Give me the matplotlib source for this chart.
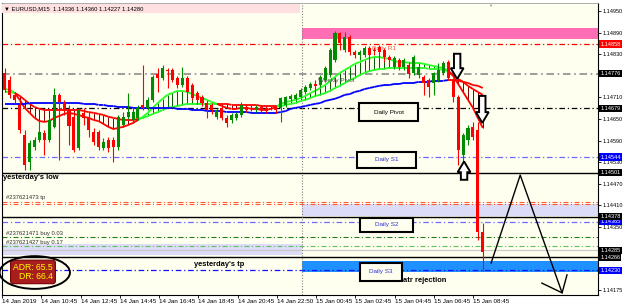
import numpy as np
import matplotlib.pyplot as plt
import matplotlib.transforms as mtransforms
from matplotlib.collections import LineCollection
from matplotlib.patches import Rectangle, Ellipse, FancyArrow

plt.rcParams['font.family'] = ['Liberation Sans', 'DejaVu Sans']

# EURUSD M15 bars (14 Jan 2019 09:00 .. 15 Jan 2019 09:15)
opens = [
    1.14778, 1.14758, 1.14717, 1.14689, 1.14606, 1.14531, 1.14572, 1.14592, 1.14611, 1.14592,
    1.14628, 1.14717, 1.14694, 1.14675, 1.14656, 1.14569, 1.14667, 1.14656, 1.14614, 1.14614,
    1.14569, 1.14592, 1.14592, 1.14572, 1.14633, 1.14656, 1.14647, 1.14653, 1.14689, 1.14681,
    1.14703, 1.14775, 1.14764, 1.14786, 1.14786, 1.14764, 1.14744, 1.14764, 1.14744, 1.14722,
    1.14711, 1.14694, 1.14689, 1.14656, 1.14681, 1.14653, 1.14647, 1.14653, 1.14661, 1.14683,
    1.14681, 1.14675, 1.14683, 1.14681, 1.14678, 1.14683, 1.14681, 1.14689, 1.14706, 1.14706,
    1.14711, 1.14725, 1.14736, 1.14747, 1.14744, 1.14758, 1.14772, 1.14814, 1.14889, 1.14842,
    1.14878, 1.14836, 1.14828, 1.14828, 1.14847, 1.14842, 1.14850, 1.14842, 1.14822, 1.14794,
    1.14814, 1.14794, 1.14800, 1.14778, 1.14772, 1.14767, 1.14758, 1.14750, 1.14758, 1.14778,
    1.14808, 1.14758, 1.14711, 1.14550, 1.14592, 1.14628, 1.14620, 1.14336]
highs = [
    1.14792, 1.14769, 1.14725, 1.14703, 1.14619, 1.14592, 1.14600, 1.14647, 1.14619, 1.14653,
    1.14736, 1.14722, 1.14703, 1.14689, 1.14669, 1.14681, 1.14681, 1.14669, 1.14625, 1.14619,
    1.14597, 1.14600, 1.14600, 1.14661, 1.14669, 1.14722, 1.14681, 1.14689, 1.14800, 1.14711,
    1.14772, 1.14792, 1.14800, 1.14792, 1.14792, 1.14769, 1.14794, 1.14769, 1.14750, 1.14728,
    1.14717, 1.14700, 1.14694, 1.14681, 1.14686, 1.14661, 1.14667, 1.14669, 1.14697, 1.14689,
    1.14686, 1.14689, 1.14689, 1.14686, 1.14683, 1.14689, 1.14711, 1.14714, 1.14719, 1.14722,
    1.14736, 1.14744, 1.14753, 1.14758, 1.14772, 1.14797, 1.14847, 1.14894, 1.14892, 1.14892,
    1.14883, 1.14842, 1.14842, 1.14853, 1.14853, 1.14850, 1.14856, 1.14847, 1.14828, 1.14825,
    1.14819, 1.14819, 1.14808, 1.14828, 1.14800, 1.14772, 1.14764, 1.14781, 1.14806, 1.14811,
    1.14814, 1.14764, 1.14717, 1.14611, 1.14633, 1.14642, 1.14642, 1.14360]
lows = [
    1.14725, 1.14708, 1.14694, 1.14611, 1.14508, 1.14508, 1.14564, 1.14586, 1.14550, 1.14586,
    1.14625, 1.14536, 1.14661, 1.14578, 1.14558, 1.14564, 1.14633, 1.14600, 1.14578, 1.14564,
    1.14564, 1.14558, 1.14531, 1.14564, 1.14628, 1.14650, 1.14642, 1.14647, 1.14675, 1.14675,
    1.14697, 1.14725, 1.14758, 1.14736, 1.14753, 1.14736, 1.14739, 1.14719, 1.14703, 1.14692,
    1.14686, 1.14653, 1.14664, 1.14650, 1.14647, 1.14628, 1.14639, 1.14647, 1.14656, 1.14669,
    1.14672, 1.14669, 1.14669, 1.14667, 1.14675, 1.14667, 1.14642, 1.14683, 1.14700, 1.14703,
    1.14708, 1.14719, 1.14731, 1.14725, 1.14739, 1.14753, 1.14767, 1.14808, 1.14842, 1.14836,
    1.14828, 1.14819, 1.14814, 1.14822, 1.14814, 1.14828, 1.14819, 1.14808, 1.14800, 1.14789,
    1.14786, 1.14786, 1.14764, 1.14772, 1.14764, 1.14717, 1.14711, 1.14717, 1.14753, 1.14772,
    1.14758, 1.14697, 1.14522, 1.14531, 1.14578, 1.14592, 1.14314, 1.14227]
closes = [
    1.14731, 1.14717, 1.14703, 1.14619, 1.14522, 1.14583, 1.14592, 1.14614, 1.14592, 1.14647,
    1.14717, 1.14697, 1.14675, 1.14631, 1.14564, 1.14675, 1.14653, 1.14619, 1.14586, 1.14572,
    1.14586, 1.14569, 1.14572, 1.14656, 1.14656, 1.14669, 1.14669, 1.14681, 1.14681, 1.14703,
    1.14767, 1.14764, 1.14792, 1.14783, 1.14758, 1.14744, 1.14764, 1.14725, 1.14708, 1.14703,
    1.14694, 1.14675, 1.14675, 1.14675, 1.14653, 1.14639, 1.14661, 1.14664, 1.14689, 1.14675,
    1.14678, 1.14683, 1.14675, 1.14672, 1.14677, 1.14675, 1.14708, 1.14711, 1.14714, 1.14717,
    1.14731, 1.14739, 1.14747, 1.14742, 1.14767, 1.14792, 1.14842, 1.14889, 1.14861, 1.14878,
    1.14836, 1.14828, 1.14836, 1.14847, 1.14828, 1.14839, 1.14836, 1.14822, 1.14814, 1.14819,
    1.14794, 1.14814, 1.14775, 1.14822, 1.14794, 1.14750, 1.14739, 1.14778, 1.14786, 1.14806,
    1.14764, 1.14711, 1.14564, 1.14606, 1.14625, 1.14600, 1.14336, 1.14280]

# smoothed band (two lines) and the slow moving average
fast_line = [
    1.14733, 1.14731, 1.14722, 1.14703, 1.14681, 1.14667, 1.14653, 1.14644, 1.14642, 1.14644,
    1.14653, 1.14658, 1.14664, 1.14667, 1.14664, 1.14661, 1.14656, 1.14653, 1.14647, 1.14644,
    1.14636, 1.14628, 1.14622, 1.14625, 1.14628, 1.14633, 1.14639, 1.14647, 1.14656, 1.14667,
    1.14681, 1.14694, 1.14706, 1.14717, 1.14722, 1.14728, 1.14728, 1.14725, 1.14719, 1.14714,
    1.14708, 1.14703, 1.14697, 1.14692, 1.14686, 1.14681, 1.14678, 1.14678, 1.14681, 1.14681,
    1.14678, 1.14678, 1.14675, 1.14675, 1.14678, 1.14683, 1.14692, 1.14697, 1.14700, 1.14703,
    1.14708, 1.14714, 1.14722, 1.14728, 1.14736, 1.14744, 1.14756, 1.14767, 1.14778, 1.14786,
    1.14794, 1.14803, 1.14808, 1.14814, 1.14819, 1.14822, 1.14822, 1.14819, 1.14817, 1.14811,
    1.14808, 1.14808, 1.14806, 1.14806, 1.14806, 1.14803, 1.14800, 1.14797, 1.14794, 1.14792,
    1.14783, 1.14769, 1.14747, 1.14725, 1.14703, 1.14681, 1.14653, 1.14625]
slow_line = [
    1.14725, 1.14725, 1.14722, 1.14714, 1.14703, 1.14692, 1.14683, 1.14678, 1.14675, 1.14675,
    1.14675, 1.14675, 1.14675, 1.14675, 1.14675, 1.14675, 1.14672, 1.14669, 1.14667, 1.14664,
    1.14661, 1.14656, 1.14653, 1.14650, 1.14647, 1.14647, 1.14647, 1.14650, 1.14653, 1.14658,
    1.14664, 1.14669, 1.14675, 1.14681, 1.14683, 1.14686, 1.14689, 1.14692, 1.14692, 1.14692,
    1.14692, 1.14692, 1.14692, 1.14692, 1.14692, 1.14692, 1.14689, 1.14689, 1.14689, 1.14689,
    1.14689, 1.14689, 1.14686, 1.14686, 1.14686, 1.14686, 1.14686, 1.14689, 1.14692, 1.14694,
    1.14700, 1.14703, 1.14708, 1.14714, 1.14717, 1.14722, 1.14728, 1.14736, 1.14742, 1.14750,
    1.14758, 1.14764, 1.14772, 1.14778, 1.14783, 1.14786, 1.14789, 1.14789, 1.14792, 1.14792,
    1.14792, 1.14792, 1.14792, 1.14792, 1.14792, 1.14792, 1.14789, 1.14789, 1.14789, 1.14786,
    1.14783, 1.14772, 1.14761, 1.14753, 1.14742, 1.14733, 1.14725, 1.14717]
ma_line = [
    1.14692, 1.14692, 1.14692, 1.14692, 1.14692, 1.14694, 1.14694, 1.14694, 1.14694, 1.14694,
    1.14694, 1.14694, 1.14694, 1.14694, 1.14694, 1.14694, 1.14692, 1.14692, 1.14692, 1.14689,
    1.14689, 1.14686, 1.14686, 1.14683, 1.14683, 1.14683, 1.14681, 1.14681, 1.14681, 1.14681,
    1.14681, 1.14681, 1.14681, 1.14681, 1.14681, 1.14678, 1.14678, 1.14678, 1.14675, 1.14675,
    1.14675, 1.14672, 1.14672, 1.14672, 1.14672, 1.14669, 1.14669, 1.14669, 1.14669, 1.14669,
    1.14667, 1.14667, 1.14667, 1.14667, 1.14667, 1.14667, 1.14669, 1.14672, 1.14678, 1.14681,
    1.14683, 1.14686, 1.14689, 1.14692, 1.14694, 1.14700, 1.14703, 1.14706, 1.14711, 1.14717,
    1.14719, 1.14725, 1.14728, 1.14733, 1.14736, 1.14739, 1.14742, 1.14744, 1.14744, 1.14747,
    1.14747, 1.14750, 1.14750, 1.14750, 1.14753, 1.14753, 1.14753, 1.14756, 1.14756, 1.14756,
    1.14758, 1.14758, 1.14756, 1.14753, 1.14750, 1.14744, 1.14742, 1.14736]

time_labels = ['14 Jan 2019', '14 Jan 10:45', '14 Jan 12:45', '14 Jan 14:45', '14 Jan 16:45',
               '14 Jan 18:45', '14 Jan 20:45', '14 Jan 22:50', '15 Jan 00:45', '15 Jan 02:45',
               '15 Jan 04:45', '15 Jan 06:45', '15 Jan 08:45']

price_ticks = [1.14950, 1.14890, 1.14830, 1.14710, 1.14650, 1.14590, 1.14530,
               1.14470, 1.14410, 1.14350, 1.14290, 1.14175]

# horizontal levels drawn across the chart
level_prices = [1.14858, 1.14776, 1.14679, 1.14544, 1.14501, 1.14419, 1.14414,
                1.14378, 1.14365, 1.14322, 1.14297, 1.14285, 1.14266, 1.14230]
tag_prices = [1.14858, 1.14776, 1.14679, 1.14365, 1.14544, 1.14501, 1.14378,
              1.14285, 1.14266, 1.14230]

# zones (low, high): today's ones start at the day separator
pink_zone = (1.14872, 1.14903)
lavender_zone = (1.14381, 1.14414)
blue_zone = (1.14225, 1.14256)
old_zone = (1.14272, 1.14303)

# hand drawn projection
zig_x = [98.7, 104.6, 113.1, 114.1]
zig_y = [1.14250, 1.14494, 1.14167, 1.14217]
zig_tail_x = [109.0, 113.1]
zig_tail_y = [1.14194, 1.14167]

BG = '#FFFFF0'
DAY_START = 60.4
DASHDOT = (0, (4.5, 2.2, 1, 2.2))

W, H = 625, 305
fig = plt.figure(figsize=(W / 100, H / 100), dpi=100)
fig.patch.set_facecolor('white')
ax = fig.add_axes([2 / W, 10 / H, 596 / W, 292 / H])
ax.set_facecolor(BG)
xmin, xmax = -0.507, 120.39
ax.set_xlim(xmin, xmax)
ax.set_ylim(1.14161, 1.14972)

# zones
ax.fill_between([DAY_START, xmax], *pink_zone, color='#FF6EB4', lw=0, zorder=1)
ax.fill_between([DAY_START, xmax], *lavender_zone, color='#DCDCF6', lw=0, zorder=1)
ax.fill_between([DAY_START, xmax], *blue_zone, color='#1E90FF', lw=0, zorder=1)
ax.fill_between([xmin, DAY_START], *old_zone, color='#DCDCF6', lw=0, zorder=1)

level_styles = [('#FF0000', DASHDOT, 0.9), ('#8C8C8C', DASHDOT, 1.2), ('#000000', DASHDOT, 0.9),
                ('#6A6AFF', DASHDOT, 0.9), ('#000000', '-', 1.0), ('#FF5A36', DASHDOT, 0.8),
                ('#FF5A36', DASHDOT, 0.8), ('#000000', '-', 1.0), ('#6A6AFF', DASHDOT, 0.9),
                ('#208020', DASHDOT, 0.8), ('#60C060', DASHDOT, 0.8), ('#C8C8C8', '-', 0.8),
                ('#000000', '-', 1.0), ('#1010FF', DASHDOT, 0.9)]
for p, (c, ls, lw) in zip(level_prices, level_styles):
    ax.axhline(p, color=c, ls=ls, lw=lw, zorder=1.5)

ax.axvline(DAY_START, color='#808080', ls=(0, (1, 1.5)), lw=0.8, zorder=1.6)

# level captions, drawn over the band but under the candles
ax.text(74.5, 1.14847, 'Daily R1', color='#F05050', fontsize=4.6, va='center', zorder=4)
ax.text(63.6, 1.14758, 'Weekly Pivot', color='#505050', fontsize=4.6, va='center', zorder=4)

idx = np.arange(len(opens))


def colored_line(xs, ys, colors, lw, z):
    pts = np.column_stack([xs, ys])
    segs = np.stack([pts[:-1], pts[1:]], axis=1)
    ax.add_collection(LineCollection(segs, colors=colors, linewidths=lw, zorder=z))


# band with hatching
f = np.array(fast_line)
s = np.array(slow_line)
bull = f >= s
ax.vlines(idx, np.minimum(f, s), np.maximum(f, s),
          colors=np.where(bull, '#005A00', '#7A0000'), lw=0.7, zorder=3)
seg_col = ['#22FF22' if b else '#FF0000' for b in bull[1:]]
colored_line(idx, f, seg_col, 1.3, 3.2)
colored_line(idx, s, seg_col, 1.3, 3.2)

# moving average: blue, red once it turns down at the end
ma = np.array(ma_line)
ma_col = ['#0000FF' if i < 91 else '#FF0000' for i in idx[1:]]
colored_line(idx, ma, ma_col, 1.3, 3.4)

# candles
o, hi, lo, c = map(np.array, (opens, highs, lows, closes))
up = c >= o
col = np.where(up, '#008C00', '#FF0000')
ax.vlines(idx, lo, hi, colors=col, lw=0.8, zorder=5)
ax.bar(idx, np.maximum(np.abs(c - o), 0.00003), bottom=np.minimum(o, c),
       width=0.62, color=col, lw=0, zorder=5.5)

# boxed pivot captions
boxes = [('Daily Pivot', 71.9, 83.9, 1.14644, 1.14694, '#000000'),
         ('Daily S1', 71.5, 83.5, 1.14514, 1.14558, '#3030D0'),
         ('Daily S2', 72.1, 82.9, 1.14336, 1.14375, '#3030D0'),
         ('Daily S3', 72.1, 80.6, 1.14200, 1.14250, '#3030D0')]
for label, x0, x1, y0, y1, tc in boxes:
    ax.add_patch(Rectangle((x0, y0), x1 - x0, y1 - y0, fc=BG, ec='black', lw=1.5, zorder=6))
    ax.text((x0 + x1) / 2, (y0 + y1) / 2, label, color=tc, fontsize=4.6,
            ha='center', va='center', zorder=7)

# hollow arrows
for x, y0, dy in [(91.8, 1.14831, -0.00070), (96.9, 1.14714, -0.00075), (93.2, 1.14481, 0.00051)]:
    ax.add_patch(FancyArrow(x, y0, 0, dy, width=1.3, head_width=2.6, head_length=0.0003,
                            length_includes_head=True, fc='white', ec='black', lw=1.4, zorder=8))

# hand drawn path
ax.plot(zig_x, zig_y, color='black', lw=1.0, zorder=8, clip_on=False)
ax.plot(zig_tail_x, zig_tail_y, color='black', lw=1.0, zorder=8)

# chart notes
bold = dict(fontsize=5.4, fontweight='bold', color='black', va='center', zorder=8)
ax.text(-0.3, 1.14486, "yesterday's low", **bold)
ax.text(38.4, 1.14245, "yesterday's tp", **bold)
ax.text(80.8, 1.14200, 'atr rejection', **bold)
small = dict(fontsize=4.2, color='#303030', va='center', zorder=8)
ax.text(0.3, 1.14431, '#237621473 tp', **small)
ax.text(0.3, 1.14331, '#237621471 buy 0.03', **small)
ax.text(0.3, 1.14306, '#237621427 buy 0.17', **small)

ax.text(0.052, 0.079, 'ADR: 65.5\nDR: 66.4', transform=ax.transAxes, color='#FFFF00',
        fontsize=6.2, ha='center', va='center', multialignment='right', linespacing=1.05,
        zorder=9, bbox=dict(boxstyle='round,pad=0.3', fc='#A81E1E', ec='#7A0000', lw=0.8))
ax.add_patch(Ellipse((0.055, 0.077), 0.118, 0.112, transform=ax.transAxes,
                     fill=False, ec='black', lw=1.4, zorder=9, clip_on=False))

# title strip
ax.add_patch(Rectangle((0, 0.966), 0.5, 0.031, transform=ax.transAxes,
                       fc='#FFE0E0', ec='none', zorder=9))
ax.text(0.004, 0.981, '\u25bc EURUSD,M15  1.14336 1.14360 1.14227 1.14280',
        transform=ax.transAxes, fontsize=4.2, va='center', color='black', zorder=10)
ax.text(98.5, 0.99, '\u25bc', transform=mtransforms.blended_transform_factory(ax.transData, ax.transAxes),
        fontsize=3, color='#909090', ha='center', va='center')

# axes
for side in ['left', 'right', 'bottom']:
    ax.spines[side].set_color('black')
    ax.spines[side].set_linewidth(0.8)
ax.spines['top'].set_color('#A0A0A0')
ax.spines['top'].set_linewidth(0.6)

ax.yaxis.tick_right()
ax.set_yticks(price_ticks)
ax.set_yticklabels(['%.5f' % p for p in price_ticks])
ax.tick_params(axis='y', labelsize=4, length=2, width=0.6, pad=1.5, colors='black')

xticks = [-0.6 + 7.97 * k for k in range(len(time_labels))]
ax.set_xticks(xticks)
ax.set_xticklabels(time_labels, ha='left')
ax.tick_params(axis='x', labelsize=4.5, length=2, width=0.6, pad=1)

trans = mtransforms.blended_transform_factory(ax.transAxes, ax.transData)
tag_colors = ['#FF0000', '#000000', '#000000', '#0000FF', '#0000FF', '#000000', '#000000',
              '#000000', '#000000', '#0000FF']
for p, bg in zip(tag_prices, tag_colors):
    ax.text(1.004, p, '%.5f' % p, transform=trans, fontsize=4, color='white', ha='left',
            va='center', zorder=10, clip_on=False,
            bbox=dict(boxstyle='square,pad=0.2', fc=bg, ec='none'))

fig.savefig('out.png', dpi=100, facecolor='white')
